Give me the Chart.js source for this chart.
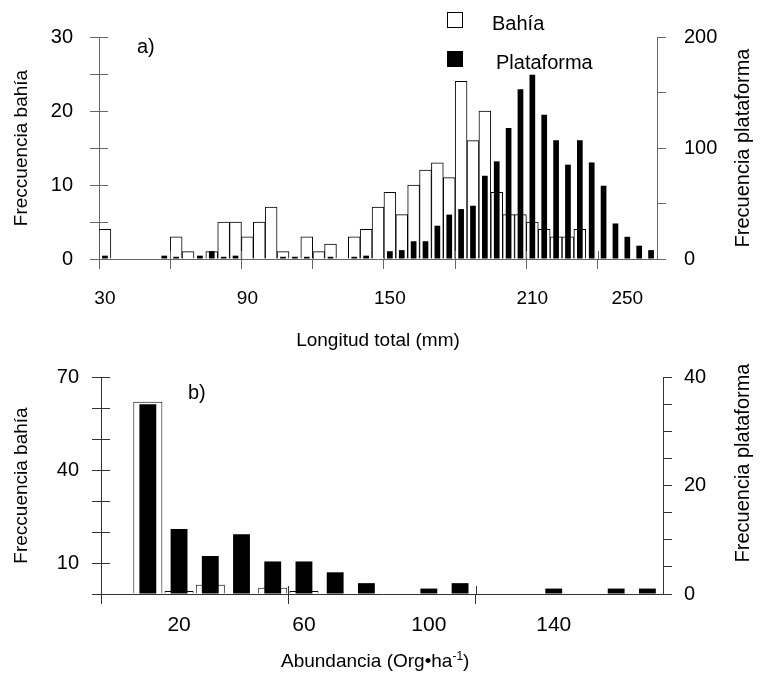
<!DOCTYPE html>
<html lang="es">
<head>
<meta charset="utf-8">
<title>Frecuencia por longitud total y abundancia</title>
<script src="https://cdn.jsdelivr.net/npm/chart.js@4.4.1/dist/chart.umd.min.js"></script>
<style>
  body { margin: 0; background: #fff; }
  #figura { position: relative; width: 760px; height: 686px; font-family: 'Liberation Sans', Arial, sans-serif; color: #000; }
  canvas { position: absolute; left: 0; }
  #graficaA { top: 0; }
  #graficaB { top: 352px; }
  .etiqueta { position: absolute; font-size: 20px; line-height: 1; white-space: nowrap; }
  .titulo-derecho { position: absolute; font-size: 20px; line-height: 1; white-space: nowrap; transform: translate(-50%, -50%) rotate(-90deg); }
  .cuadro { position: absolute; width: 16px; height: 16px; border: 1px solid #000; box-sizing: border-box; }
</style>
</head>
<body>
<div id="figura">
  <canvas id="graficaA" width="760" height="352"></canvas>
  <canvas id="graficaB" width="760" height="334"></canvas>

  <!-- letras de panel -->
  <div class="etiqueta" style="left:137px; top:36px;">a)</div>
  <div class="etiqueta" style="left:188px; top:382px;">b)</div>

  <!-- leyenda -->
  <div class="cuadro" style="left:447px; top:12px; background:#fff;"></div>
  <div class="etiqueta" style="left:492px; top:13px;">Bahía</div>
  <div class="cuadro" style="left:447px; top:51px; background:#000;"></div>
  <div class="etiqueta" style="left:496px; top:52px;">Plataforma</div>

  <!-- títulos del eje derecho (leen de abajo hacia arriba) -->
  <div class="titulo-derecho" style="left:742px; top:148px;">Frecuencia plataforma</div>
  <div class="titulo-derecho" style="left:742px; top:463px;">Frecuencia plataforma</div>

  <div class="etiqueta" style="left:281px; top:650px; font-size:19px;">Abundancia (Org•ha<sup style="font-size:12px;">-1</sup>)</div>
</div>

<script>
// Panel a) clases de longitud total (mm)
const longitudes = ['30','35','40','45','50','55','60','65','70','75','80','85','90','95','100','105',
  '110','115','120','125','130','135','140','145','150','155','160','165','170','175','180','185',
  '190','195','200','205','210','215','220','225','230','235','240','245','250','255','260'];
const etiquetasLongitud = ['30', '90', '150', '210', '250'];
const bahiaLongitud = [4,0,0,0,0,0,3,1,0,1, 5,5,3,5,7,1,0,3,1,2, 0,3,4,7,9,6,10,12,13,11,
  24,16,20,9,6,6,5,4,3,3, 4,0,0,0,0,0,0];
const plataformaLongitud = [3,0,0,0,0,3,2,0,3,7, 2,3,0,0,0,2,2,2,0,2, 0,2,3,0,7,8,16,16,30,40,
  45,48,75,88,118,153,166,130,107,85, 107,87,66,32,20,12,8];

// Panel b) clases de abundancia (Org/ha)
const abundancias = ['0','10','20','30','40','50','60','70','80','90','100','110','120','130','140','150','160','170'];
const etiquetasAbundancia = ['20', '60', '100', '140'];
const bahiaAbundancia = [0,62,1,3,0,2,1,0,0,0,0,0,0,0,0,0,0,0];
const plataformaAbundancia = [0,35,12,7,11,6,6,4,2,0,1,2,0,0,1,0,1,1];

const fuente = "'Liberation Sans', Arial, sans-serif";
Chart.defaults.font.family = fuente;
Chart.defaults.color = '#000';

// Marca de eje solo cada 6 clases
function marcaCada6(color) {
  return (ctx) => (ctx.index !== undefined && ctx.index % 6 === 0) ? color : 'rgba(0,0,0,0)';
}

// Etiqueta solo para las clases de la lista
function soloEtiquetas(lista) {
  return function (value) {
    const lab = this.getLabelForValue(value);
    return lista.includes(lab) ? lab : '';
  };
}

// Marcas que cruzan el eje (parte interior), eje izquierdo y eje x
const marcasInternas = {
  id: 'marcasInternas',
  afterDraw(chart) {
    const ctx = chart.ctx;
    const area = chart.chartArea;
    const y = chart.scales.yBahia;
    const x = chart.scales.x;
    ctx.save();
    ctx.strokeStyle = y.options.border.color;
    ctx.lineWidth = 1;
    ctx.beginPath();
    y.ticks.forEach(t => {
      const py = Math.round(y.getPixelForValue(t.value)) + 0.5;
      ctx.moveTo(area.left, py);
      ctx.lineTo(area.left + 9, py);
    });
    for (let i = 6; i < x.ticks.length; i += 6) {
      const px = Math.round((x.getPixelForValue(i - 1) + x.getPixelForValue(i)) / 2) + 0.5;
      ctx.moveTo(px, area.bottom);
      ctx.lineTo(px, area.bottom - 8);
    }
    ctx.stroke();
    ctx.restore();
  }
};

function crearGrafica(canvasId, cfg) {
  return new Chart(document.getElementById(canvasId), {
    type: 'bar',
    data: {
      labels: cfg.clases,
      datasets: [
        { label: 'Bahía', data: cfg.bahia, yAxisID: 'yBahia', backgroundColor: '#fff',
          borderColor: '#000', borderWidth: 1, grouped: false, order: 2,
          barPercentage: cfg.anchoBlanco, categoryPercentage: 1 },
        { label: 'Plataforma', data: cfg.plataforma, yAxisID: 'yPlataforma', backgroundColor: '#000',
          borderWidth: 0, grouped: false, order: 1,
          barPercentage: cfg.anchoNegro, categoryPercentage: 1 }
      ]
    },
    plugins: [marcasInternas],
    options: {
      responsive: false,
      animation: false,
      layout: { padding: { top: cfg.arriba, left: 0, right: 0, bottom: 0 } },
      plugins: { legend: { display: false }, tooltip: { enabled: false } },
      scales: {
        x: {
          offset: true,
          grid: { offset: true, drawOnChartArea: false, tickLength: 10, color: marcaCada6(cfg.gris) },
          border: { color: cfg.gris },
          ticks: { autoSkip: false, maxRotation: 0, minRotation: 0, padding: cfg.padX,
                   font: { size: cfg.letraX }, callback: soloEtiquetas(cfg.etiquetas) },
          title: { display: !!cfg.tituloX, text: cfg.tituloX, font: { size: 19 }, padding: { top: 0, bottom: 0 } },
          afterFit: (s) => { s.height = cfg.altoX; }
        },
        yBahia: {
          position: 'left', min: 0, max: cfg.maxBahia,
          ticks: { stepSize: cfg.pasoBahia, padding: cfg.padIzq, font: { size: cfg.letraY }, callback: cfg.etqBahia },
          grid: { drawOnChartArea: false, tickLength: 9, color: cfg.gris },
          border: { color: cfg.gris },
          title: { display: true, text: 'Freccuencia bahía', font: { size: 19 }, padding: { top: 10, bottom: 0 } },
          afterFit: (s) => { s.width = cfg.izq; }
        },
        yPlataforma: {
          position: 'right', min: 0, max: cfg.maxPlat,
          ticks: { stepSize: cfg.pasoPlat, padding: cfg.padDer, font: { size: cfg.letraY }, callback: cfg.etqPlat },
          grid: { drawOnChartArea: false, tickLength: 9, color: cfg.gris },
          border: { color: cfg.gris },
          afterFit: (s) => { s.width = cfg.der; }
        }
      }
    }
  });
}

// Panel a)
crearGrafica('graficaA', {
  clases: longitudes, etiquetas: etiquetasLongitud,
  bahia: bahiaLongitud, plataforma: plataformaLongitud,
  anchoBlanco: 1, anchoNegro: 0.48,
  arriba: 37, izq: 99, der: 103, altoX: 93, padX: 18, padIzq: 17, padDer: 18,
  letraX: 19, letraY: 20,
  gris: '#666', tituloX: 'Longitud total (mm)',
  maxBahia: 30, pasoBahia: 5, etqBahia: (v) => v % 10 === 0 ? v : '',
  maxPlat: 200, pasoPlat: 50, etqPlat: (v) => v % 100 === 0 ? v : ''
});

// Panel b)
crearGrafica('graficaB', {
  clases: abundancias, etiquetas: etiquetasAbundancia,
  bahia: bahiaAbundancia, plataforma: plataformaAbundancia,
  anchoBlanco: 0.93, anchoNegro: 0.54,
  arriba: 13, izq: 101, der: 97, altoX: 92, padX: 9, padIzq: 13, padDer: 12,
  letraX: 21, letraY: 20,
  gris: '#333', tituloX: '',
  maxBahia: 70, pasoBahia: 10, etqBahia: (v) => v % 30 === 10 ? v : '',
  maxPlat: 40, pasoPlat: 5, etqPlat: (v) => v % 20 === 0 ? v : ''
});
</script>
</body>
</html>
